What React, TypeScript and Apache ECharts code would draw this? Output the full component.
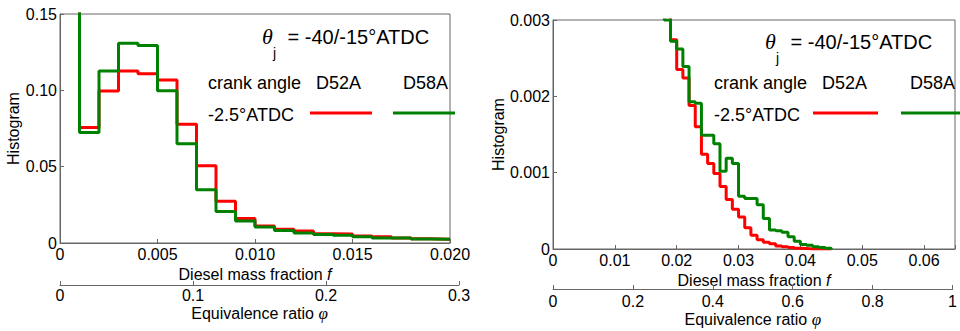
import React, { useEffect, useRef } from 'react';
import * as echarts from 'echarts';

// ---------- data ----------
// Left panel: histogram of diesel mass fraction f (bin starts, width 0.001)
const leftBinStarts = [0, 0.001, 0.002, 0.003, 0.004, 0.005, 0.006, 0.007, 0.008, 0.009,
  0.010, 0.011, 0.012, 0.013, 0.014, 0.015, 0.016, 0.017, 0.018, 0.019];
const leftBinEnd = 0.02;
const leftD52A = [0.25, 0.0757, 0.0996, 0.1127, 0.1108, 0.1068, 0.0778, 0.0506, 0.0273, 0.0161,
  0.0111, 0.009, 0.0078, 0.006, 0.0059, 0.0046, 0.0041, 0.0033, 0.0028, 0.0025];
const leftD58A = [0.25, 0.0724, 0.1127, 0.1308, 0.1293, 0.0998, 0.065, 0.0349, 0.0207, 0.0144,
  0.0105, 0.0082, 0.0066, 0.0055, 0.005, 0.0041, 0.0033, 0.0032, 0.0027, 0.0024];

// Right panel: zoomed histogram (bin starts, width 0.001)
const rightBinStarts = [0.017, 0.018, 0.019, 0.020, 0.021, 0.022, 0.023, 0.024, 0.025, 0.026,
  0.027, 0.028, 0.029, 0.030, 0.031, 0.032, 0.033, 0.034, 0.035, 0.036,
  0.037, 0.038, 0.039, 0.040, 0.041, 0.042, 0.043, 0.044];
const rightBinEnd = 0.045;
const rightD52A = [0.004, 0.0031, 0.00274, 0.00235, 0.00224, 0.00188, 0.0016, 0.00124, 0.00112, 0.00099,
  0.00082, 0.00065, 0.00052, 0.00042, 0.00028, 0.00018, 0.00012, 0.00009, 0.00007, 0.00004,
  0.00003, 0.00002, 0.00001, 0.000005, 0, 0, 0, 0];
const rightD58A = [0.004, 0.003, 0.00272, 0.00262, 0.00239, 0.00193, 0.00191, 0.00149, 0.00149, 0.00138,
  0.00102, 0.00119, 0.00112, 0.00069, 0.00066, 0.00066, 0.00058, 0.0004, 0.00025, 0.00024,
  0.00022, 0.00016, 0.0001, 0.00006, 0.00005, 0.00003, 0.00002, 0.00001];
const rightEndValue = 0;

// Tick labels
const leftYTickValues = [0, 0.05, 0.1, 0.15];
const leftYTickLabels = ['0', '0.05', '0.10', '0.15'];
const leftXTickValues = [0, 0.005, 0.01, 0.015, 0.02];
const leftXTickLabels = ['0', '0.005', '0.010', '0.015', '0.020'];
const leftPhiTickValues = [0, 0.1, 0.2, 0.3];
const leftPhiTickLabels = ['0', '0.1', '0.2', '0.3'];
const rightYTickValues = [0, 0.001, 0.002, 0.003];
const rightYTickLabels = ['0', '0.001', '0.002', '0.003'];
const rightXTickValues = [0, 0.01, 0.02, 0.03, 0.04, 0.05, 0.06];
const rightXTickLabels = ['0', '0.01', '0.02', '0.03', '0.04', '0.05', '0.06'];
const rightPhiTickValues = [0, 0.2, 0.4, 0.6, 0.8, 1];
const rightPhiTickLabels = ['0', '0.2', '0.4', '0.6', '0.8', '1'];

const seriesNames = ['D52A', 'D58A'];
const seriesColors = ['#ff0000', '#008000'];
const titleText = ' = -40/-15°ATDC';
const crankText = 'crank angle';
const crankValueText = '-2.5°ATDC';

// ---------- helpers ----------
const FONT = '"Liberation Sans", Arial, Helvetica, sans-serif';
const SERIF = '"Liberation Serif", "Times New Roman", serif';
const AXIS_COLOR = '#666';

function lookup(vals: number[], labels: string[]) {
  return (v: number) => {
    const i = vals.findIndex((t) => Math.abs(t - v) < 1e-9);
    return i >= 0 ? labels[i] : '';
  };
}

function stepData(starts: number[], vals: number[], end: number, endVal: number) {
  const d: number[][] = starts.map((s, i) => [s, vals[i]]);
  d.push([end, endVal]);
  return d;
}

function valueAxis(gridIndex: number, min: number, max: number, interval: number,
  vals: number[], labels: string[], margin: number, extra: any = {}) {
  return {
    type: 'value',
    gridIndex,
    min,
    max,
    interval,
    splitLine: { show: false },
    axisLine: { show: true, lineStyle: { color: AXIS_COLOR, width: 1 } },
    axisTick: { show: true, inside: true, length: 4, lineStyle: { color: AXIS_COLOR } },
    axisLabel: {
      show: true,
      margin,
      color: '#000',
      fontSize: 16,
      fontFamily: FONT,
      formatter: lookup(vals, labels),
      showMinLabel: true,
      showMaxLabel: true,
    },
    ...extra,
  };
}

const nameStyle = (rich: any = {}) => ({
  color: '#000',
  fontSize: 16,
  fontFamily: FONT,
  rich,
});

function legendGraphics(x0: number, titleY: number, crankY: number, valY: number,
  d52X: number, d58X: number, redX: [number, number], greenX: [number, number], lineY: number) {
  const t = (text: string, x: number, y: number, size: number, extra: any = {}) => ({
    type: 'text',
    x,
    y,
    silent: true,
    style: {
      text,
      fontSize: size,
      fontFamily: FONT,
      fill: '#000',
      align: 'left',
      verticalAlign: 'middle',
      ...extra,
    },
  });
  return [
    t('θ', x0, titleY - 1, 22, { fontFamily: SERIF, fontStyle: 'italic' }),
    t('j', x0 + 11, titleY + 16, 14),
    t(titleText, x0 + 20, titleY, 20),
    t(crankText, d52X - 108, crankY, 18),
    t(seriesNames[0], d52X, crankY, 18),
    t(seriesNames[1], d58X, crankY, 18),
    t(crankValueText, d52X - 108, valY, 18),
    {
      type: 'line', silent: true,
      shape: { x1: redX[0], y1: lineY, x2: redX[1], y2: lineY },
      style: { stroke: seriesColors[0], lineWidth: 3 },
    },
    {
      type: 'line', silent: true,
      shape: { x1: greenX[0], y1: lineY, x2: greenX[1], y2: lineY },
      style: { stroke: seriesColors[1], lineWidth: 3 },
    },
  ];
}

export default function App() {
  const ref = useRef<HTMLDivElement>(null);

  useEffect(() => {
    if (!ref.current) return;
    const chart = echarts.init(ref.current, undefined, { renderer: 'svg' });

    const gridBase = { show: true, borderColor: AXIS_COLOR, borderWidth: 1, backgroundColor: 'transparent' };

    const option: any = {
      animation: false,
      backgroundColor: '#fff',
      grid: [
        { ...gridBase, left: 60, top: 14, width: 390, height: 229 },
        { ...gridBase, left: 553, top: 20, width: 402, height: 229 },
        { show: false, left: 60, top: 284, width: 399, height: 1 },
        { show: false, left: 553, top: 288, width: 402, height: 1 },
      ],
      xAxis: [
        valueAxis(0, 0, 0.02, 0.005, leftXTickValues, leftXTickLabels, 3, {
          name: 'Diesel mass fraction {i|f}',
          nameLocation: 'middle',
          nameGap: 19,
          nameTextStyle: nameStyle({ i: { fontStyle: 'italic', fontSize: 16, fontFamily: FONT, color: '#000' } }),
        }),
        valueAxis(1, 0, 0.065, 0.01, rightXTickValues, rightXTickLabels, 3, {
          name: 'Diesel mass fraction {i|f}',
          nameLocation: 'middle',
          nameGap: 19,
          nameTextStyle: nameStyle({ i: { fontStyle: 'italic', fontSize: 16, fontFamily: FONT, color: '#000' } }),
        }),
        valueAxis(2, 0, 0.3, 0.1, leftPhiTickValues, leftPhiTickLabels, 2, {
          position: 'bottom',
          name: 'Equivalence ratio {i|φ}',
          nameLocation: 'middle',
          nameGap: 20,
          nameTextStyle: nameStyle({ i: { fontStyle: 'italic', fontSize: 17, fontFamily: SERIF, color: '#000' } }),
        }),
        valueAxis(3, 0, 1, 0.2, rightPhiTickValues, rightPhiTickLabels, 4, {
          position: 'bottom',
          name: 'Equivalence ratio {i|φ}',
          nameLocation: 'middle',
          nameGap: 22,
          nameTextStyle: nameStyle({ i: { fontStyle: 'italic', fontSize: 17, fontFamily: SERIF, color: '#000' } }),
        }),
      ],
      yAxis: [
        valueAxis(0, 0, 0.15, 0.05, leftYTickValues, leftYTickLabels, 3, {
          name: 'Histogram',
          nameLocation: 'middle',
          nameGap: 36,
          nameTextStyle: nameStyle(),
        }),
        valueAxis(1, 0, 0.003, 0.001, rightYTickValues, rightYTickLabels, 3, {
          name: 'Histogram',
          nameLocation: 'middle',
          nameGap: 47,
          nameTextStyle: nameStyle(),
        }),
        { type: 'value', gridIndex: 2, min: 0, max: 1, show: false },
        { type: 'value', gridIndex: 3, min: 0, max: 1, show: false },
      ],
      series: [
        {
          name: seriesNames[0], type: 'line', xAxisIndex: 0, yAxisIndex: 0, step: 'end',
          showSymbol: false, symbol: 'none', clip: true,
          lineStyle: { color: seriesColors[0], width: 3 },
          data: stepData(leftBinStarts, leftD52A, leftBinEnd, leftD52A[leftD52A.length - 1]),
        },
        {
          name: seriesNames[1], type: 'line', xAxisIndex: 0, yAxisIndex: 0, step: 'end',
          showSymbol: false, symbol: 'none', clip: true,
          lineStyle: { color: seriesColors[1], width: 3 },
          data: stepData(leftBinStarts, leftD58A, leftBinEnd, leftD58A[leftD58A.length - 1]),
        },
        {
          name: seriesNames[0], type: 'line', xAxisIndex: 1, yAxisIndex: 1, step: 'end',
          showSymbol: false, symbol: 'none', clip: true,
          lineStyle: { color: seriesColors[0], width: 3 },
          data: stepData(rightBinStarts, rightD52A, rightBinEnd, rightEndValue),
        },
        {
          name: seriesNames[1], type: 'line', xAxisIndex: 1, yAxisIndex: 1, step: 'end',
          showSymbol: false, symbol: 'none', clip: true,
          lineStyle: { color: seriesColors[1], width: 3 },
          data: stepData(rightBinStarts, rightD58A, rightBinEnd, rightEndValue),
        },
      ],
      graphic: [
        ...legendGraphics(262, 37, 83, 115, 316, 403, [310, 372], [393, 455], 113),
        ...legendGraphics(765, 42, 83, 115, 822, 910, [813, 878], [901, 960], 113),
      ],
    };

    chart.setOption(option);
    return () => chart.dispose();
  }, []);

  return (
    <div
      ref={ref}
      style={{ position: 'fixed', left: 0, top: 0, width: 960, height: 331, background: '#fff' }}
    />
  );
}
